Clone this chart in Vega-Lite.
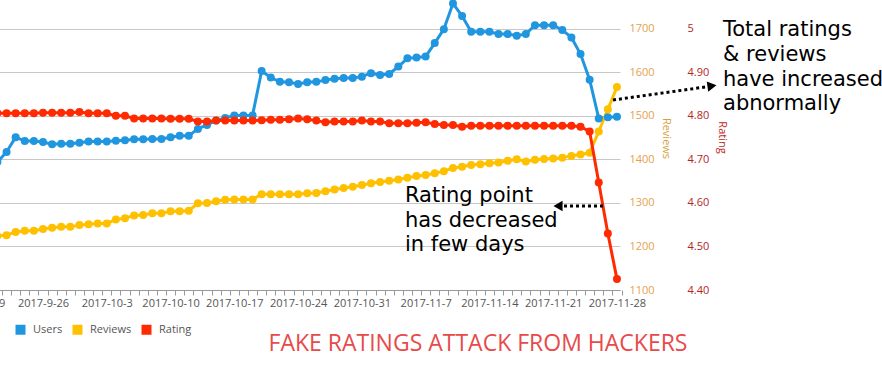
{
  "$schema": "https://vega.github.io/schema/vega-lite/v6.json",
  "width": 659,
  "height": 290,
  "autosize": {"type": "none"},
  "padding": {"left": -39, "top": 0, "right": 262, "bottom": 78},
  "background": "white",
  "config": {"view": {"stroke": null}, "font": "Open Sans"},
  "title": {
    "text": "FAKE RATINGS ATTACK FROM HACKERS",
    "orient": "bottom",
    "anchor": "middle",
    "frame": "group",
    "font": "Open Sans",
    "fontSize": 23,
    "fontWeight": "normal",
    "color": "#e84a4a",
    "dx": 187.5,
    "offset": -2
  },
  "datasets": {
    "main": [
      {"date": "2017-09-21", "Users": 1394, "Reviews": 1224, "Rating": 4.806},
      {"date": "2017-09-22", "Users": 1417, "Reviews": 1226, "Rating": 4.806},
      {"date": "2017-09-23", "Users": 1451, "Reviews": 1233, "Rating": 4.806},
      {"date": "2017-09-24", "Users": 1442, "Reviews": 1236, "Rating": 4.806},
      {"date": "2017-09-25", "Users": 1442, "Reviews": 1236, "Rating": 4.806},
      {"date": "2017-09-26", "Users": 1440, "Reviews": 1240, "Rating": 4.807},
      {"date": "2017-09-27", "Users": 1435, "Reviews": 1243, "Rating": 4.807},
      {"date": "2017-09-28", "Users": 1436, "Reviews": 1245, "Rating": 4.807},
      {"date": "2017-09-29", "Users": 1436, "Reviews": 1245, "Rating": 4.807},
      {"date": "2017-09-30", "Users": 1438, "Reviews": 1249, "Rating": 4.809},
      {"date": "2017-10-01", "Users": 1441, "Reviews": 1251, "Rating": 4.806},
      {"date": "2017-10-02", "Users": 1441, "Reviews": 1253, "Rating": 4.806},
      {"date": "2017-10-03", "Users": 1441, "Reviews": 1253, "Rating": 4.806},
      {"date": "2017-10-04", "Users": 1443, "Reviews": 1262, "Rating": 4.800},
      {"date": "2017-10-05", "Users": 1444, "Reviews": 1265, "Rating": 4.800},
      {"date": "2017-10-06", "Users": 1446, "Reviews": 1271, "Rating": 4.794},
      {"date": "2017-10-07", "Users": 1446, "Reviews": 1272, "Rating": 4.794},
      {"date": "2017-10-08", "Users": 1447, "Reviews": 1276, "Rating": 4.794},
      {"date": "2017-10-09", "Users": 1447, "Reviews": 1276, "Rating": 4.794},
      {"date": "2017-10-10", "Users": 1451, "Reviews": 1281, "Rating": 4.793},
      {"date": "2017-10-11", "Users": 1454, "Reviews": 1281, "Rating": 4.793},
      {"date": "2017-10-12", "Users": 1454, "Reviews": 1282, "Rating": 4.793},
      {"date": "2017-10-13", "Users": 1470, "Reviews": 1299, "Rating": 4.787},
      {"date": "2017-10-14", "Users": 1479, "Reviews": 1300, "Rating": 4.787},
      {"date": "2017-10-15", "Users": 1489, "Reviews": 1304, "Rating": 4.789},
      {"date": "2017-10-16", "Users": 1495, "Reviews": 1307, "Rating": 4.789},
      {"date": "2017-10-17", "Users": 1501, "Reviews": 1308, "Rating": 4.789},
      {"date": "2017-10-18", "Users": 1501, "Reviews": 1308, "Rating": 4.789},
      {"date": "2017-10-19", "Users": 1501, "Reviews": 1308, "Rating": 4.789},
      {"date": "2017-10-20", "Users": 1603, "Reviews": 1320, "Rating": 4.790},
      {"date": "2017-10-21", "Users": 1588, "Reviews": 1320, "Rating": 4.791},
      {"date": "2017-10-22", "Users": 1578, "Reviews": 1320, "Rating": 4.791},
      {"date": "2017-10-23", "Users": 1577, "Reviews": 1320, "Rating": 4.792},
      {"date": "2017-10-24", "Users": 1573, "Reviews": 1320, "Rating": 4.794},
      {"date": "2017-10-25", "Users": 1577, "Reviews": 1322, "Rating": 4.792},
      {"date": "2017-10-26", "Users": 1578, "Reviews": 1323, "Rating": 4.789},
      {"date": "2017-10-27", "Users": 1582, "Reviews": 1327, "Rating": 4.785},
      {"date": "2017-10-28", "Users": 1585, "Reviews": 1331, "Rating": 4.787},
      {"date": "2017-10-29", "Users": 1587, "Reviews": 1334, "Rating": 4.787},
      {"date": "2017-10-30", "Users": 1587, "Reviews": 1337, "Rating": 4.787},
      {"date": "2017-10-31", "Users": 1590, "Reviews": 1341, "Rating": 4.789},
      {"date": "2017-11-01", "Users": 1598, "Reviews": 1345, "Rating": 4.787},
      {"date": "2017-11-02", "Users": 1594, "Reviews": 1348, "Rating": 4.787},
      {"date": "2017-11-03", "Users": 1596, "Reviews": 1351, "Rating": 4.783},
      {"date": "2017-11-04", "Users": 1613, "Reviews": 1354, "Rating": 4.783},
      {"date": "2017-11-05", "Users": 1632, "Reviews": 1358, "Rating": 4.783},
      {"date": "2017-11-06", "Users": 1634, "Reviews": 1362, "Rating": 4.784},
      {"date": "2017-11-07", "Users": 1636, "Reviews": 1364, "Rating": 4.785},
      {"date": "2017-11-08", "Users": 1667, "Reviews": 1368, "Rating": 4.781},
      {"date": "2017-11-09", "Users": 1699, "Reviews": 1373, "Rating": 4.779},
      {"date": "2017-11-10", "Users": 1758, "Reviews": 1380, "Rating": 4.779},
      {"date": "2017-11-11", "Users": 1729, "Reviews": 1383, "Rating": 4.775},
      {"date": "2017-11-12", "Users": 1693, "Reviews": 1387, "Rating": 4.777},
      {"date": "2017-11-13", "Users": 1693, "Reviews": 1389, "Rating": 4.777},
      {"date": "2017-11-14", "Users": 1693, "Reviews": 1391, "Rating": 4.777},
      {"date": "2017-11-15", "Users": 1688, "Reviews": 1393, "Rating": 4.777},
      {"date": "2017-11-16", "Users": 1688, "Reviews": 1397, "Rating": 4.777},
      {"date": "2017-11-17", "Users": 1684, "Reviews": 1400, "Rating": 4.777},
      {"date": "2017-11-18", "Users": 1688, "Reviews": 1395, "Rating": 4.777},
      {"date": "2017-11-19", "Users": 1708, "Reviews": 1399, "Rating": 4.777},
      {"date": "2017-11-20", "Users": 1708, "Reviews": 1401, "Rating": 4.777},
      {"date": "2017-11-21", "Users": 1708, "Reviews": 1402, "Rating": 4.777},
      {"date": "2017-11-22", "Users": 1697, "Reviews": 1404, "Rating": 4.777},
      {"date": "2017-11-23", "Users": 1680, "Reviews": 1408, "Rating": 4.777},
      {"date": "2017-11-24", "Users": 1642, "Reviews": 1411, "Rating": 4.775},
      {"date": "2017-11-25", "Users": 1583, "Reviews": 1415, "Rating": 4.764},
      {"date": "2017-11-26", "Users": 1494, "Reviews": 1464, "Rating": 4.647},
      {"date": "2017-11-27", "Users": 1497, "Reviews": 1515, "Rating": 4.530},
      {"date": "2017-11-28", "Users": 1498, "Reviews": 1566, "Rating": 4.425}
    ]
  },
  "layer": [
    {
      "data": {"name": "main"},
      "transform": [{"fold": ["Users", "Reviews"], "as": ["series", "value"]}],
      "encoding": {
        "x": {
          "field": "date", "type": "temporal",
          "scale": {"type": "utc", "domain": [{"year": 2017, "month": 9, "date": 17, "utc": true}, {"year": 2017, "month": 11, "date": 28, "hours": 8, "utc": true}]},
          "axis": {
            "title": null, "grid": false, "domainColor": "#999", "tickColor": "#999", "tickSize": 5,
            "tickCount": {"interval": "day", "step": 1}, "tickOffset": 4.55, "labelOffset": -4.55,
            "labelExpr": "utcday(datum.value) == 2 ? utcFormat(datum.value, '%Y-%-m-%-d') : ''",
            "labelOverlap": false, "labelFlush": false, "labelBound": false,
            "labelColor": "#555", "labelFont": "Open Sans", "labelFontSize": 11, "labelPadding": 2
          }
        },
        "y": {
          "field": "value", "type": "quantitative",
          "scale": {"domain": [1100, 1766], "nice": false, "zero": false},
          "axis": {
            "orient": "right", "title": "Reviews", "values": [1100, 1200, 1300, 1400, 1500, 1600, 1700], "format": "d",
            "grid": true, "gridColor": "#c8c8c8", "gridWidth": 1, "ticks": false, "domain": false,
            "labelColor": "#e3a24f", "labelFont": "Open Sans", "labelFontSize": 11, "labelPadding": 9,
            "titleColor": "#d9a040", "titleFont": "Open Sans", "titleFontSize": 11, "titleFontWeight": "normal", "titlePadding": 6, "titleY": 138
          }
        },
        "color": {
          "field": "series", "type": "nominal",
          "scale": {"domain": ["Users", "Reviews", "Rating"], "range": ["#2196e0", "#ffc000", "#ff2a00"]},
          "legend": {
            "orient": "none", "legendX": 54, "legendY": 324, "direction": "horizontal", "title": null,
            "symbolType": "square", "symbolSize": 100, "symbolStrokeWidth": 0,
            "labelFont": "Open Sans", "labelFontSize": 11, "labelColor": "#555", "columnPadding": 9, "labelOffset": 7
          }
        }
      },
      "layer": [
        {"mark": {"type": "line", "strokeWidth": 3}},
        {"mark": {"type": "point", "filled": true, "size": 64, "opacity": 1}}
      ]
    },
    {
      "data": {"name": "main"},
      "encoding": {
        "x": {
          "field": "date", "type": "temporal",
          "scale": {"type": "utc", "domain": [{"year": 2017, "month": 9, "date": 17, "utc": true}, {"year": 2017, "month": 11, "date": 28, "hours": 8, "utc": true}]}
        },
        "y": {
          "field": "Rating", "type": "quantitative",
          "scale": {"domain": [4.4, 5.066], "nice": false, "zero": false},
          "axis": {
            "orient": "right", "offset": 58, "title": "Rating", "values": [4.4, 4.5, 4.6, 4.7, 4.8, 4.9, 5],
            "labelExpr": "datum.value == 5 ? '5' : format(datum.value, '.2f')",
            "grid": false, "ticks": false, "domain": false,
            "labelColor": "#b3261e", "labelFont": "Open Sans", "labelFontSize": 11, "labelPadding": 9,
            "titleColor": "#c0281e", "titleFont": "Open Sans", "titleFontSize": 11, "titleFontWeight": "normal", "titlePadding": 8, "titleY": 137
          }
        },
        "color": {"datum": "Rating", "type": "nominal"}
      },
      "layer": [
        {"mark": {"type": "line", "strokeWidth": 3}},
        {"mark": {"type": "point", "filled": true, "size": 64, "opacity": 1}}
      ]
    },
    {
      "layer": [
        {
          "data": {"values": [
            {"date": "2017-12-09T15:22:00Z", "value": 1683, "label": "Total ratings\n& reviews\nhave increased\nabnormally"},
            {"date": "2017-11-04T17:31:00Z", "value": 1302, "label": "Rating point\nhas decreased\nin few days"}
          ]},
          "mark": {"type": "text", "align": "left", "baseline": "alphabetic", "font": "DejaVu Sans", "fontSize": 21, "lineHeight": 24.7, "lineBreak": "\n", "color": "black"},
          "encoding": {
            "x": {"field": "date", "type": "temporal", "scale": {"type": "utc", "domain": [{"year": 2017, "month": 9, "date": 17, "utc": true}, {"year": 2017, "month": 11, "date": 28, "hours": 8, "utc": true}]}},
            "y": {"field": "value", "type": "quantitative", "scale": {"domain": [1100, 1766], "nice": false, "zero": false}, "axis": null},
            "text": {"field": "label"}
          }
        },
        {
          "data": {"values": [
            {"date": "2017-11-27T13:34:00Z", "date2": "2017-12-08T02:24:00Z", "value": 1536.4, "value2": 1567.4},
            {"date": "2017-11-26T11:14:00Z", "date2": "2017-11-21T20:36:00Z", "value": 1292.9, "value2": 1292.9}
          ]},
          "mark": {"type": "rule", "strokeWidth": 3, "strokeDash": [3, 3], "color": "black"},
          "encoding": {
            "x": {"field": "date", "type": "temporal", "scale": {"type": "utc", "domain": [{"year": 2017, "month": 9, "date": 17, "utc": true}, {"year": 2017, "month": 11, "date": 28, "hours": 8, "utc": true}]}},
            "x2": {"field": "date2"},
            "y": {"field": "value", "type": "quantitative", "scale": {"domain": [1100, 1766], "nice": false, "zero": false}, "axis": null},
            "y2": {"field": "value2"}
          }
        },
        {
          "data": {"values": [{"date": "2017-12-08T10:19:00Z", "value": 1568.5}]},
          "mark": {"type": "point", "shape": "triangle-right", "filled": true, "size": 110, "angle": -8, "color": "black", "opacity": 1},
          "encoding": {
            "x": {"field": "date", "type": "temporal", "scale": {"type": "utc", "domain": [{"year": 2017, "month": 9, "date": 17, "utc": true}, {"year": 2017, "month": 11, "date": 28, "hours": 8, "utc": true}]}},
            "y": {"field": "value", "type": "quantitative", "scale": {"domain": [1100, 1766], "nice": false, "zero": false}, "axis": null}
          }
        },
        {
          "data": {"values": [{"date": "2017-11-21T12:43:00Z", "value": 1292.9}]},
          "mark": {"type": "point", "shape": "triangle-left", "filled": true, "size": 110, "color": "black", "opacity": 1},
          "encoding": {
            "x": {"field": "date", "type": "temporal", "scale": {"type": "utc", "domain": [{"year": 2017, "month": 9, "date": 17, "utc": true}, {"year": 2017, "month": 11, "date": 28, "hours": 8, "utc": true}]}},
            "y": {"field": "value", "type": "quantitative", "scale": {"domain": [1100, 1766], "nice": false, "zero": false}, "axis": null}
          }
        }
      ]
    }
  ],
  "resolve": {"scale": {"y": "independent"}}
}
